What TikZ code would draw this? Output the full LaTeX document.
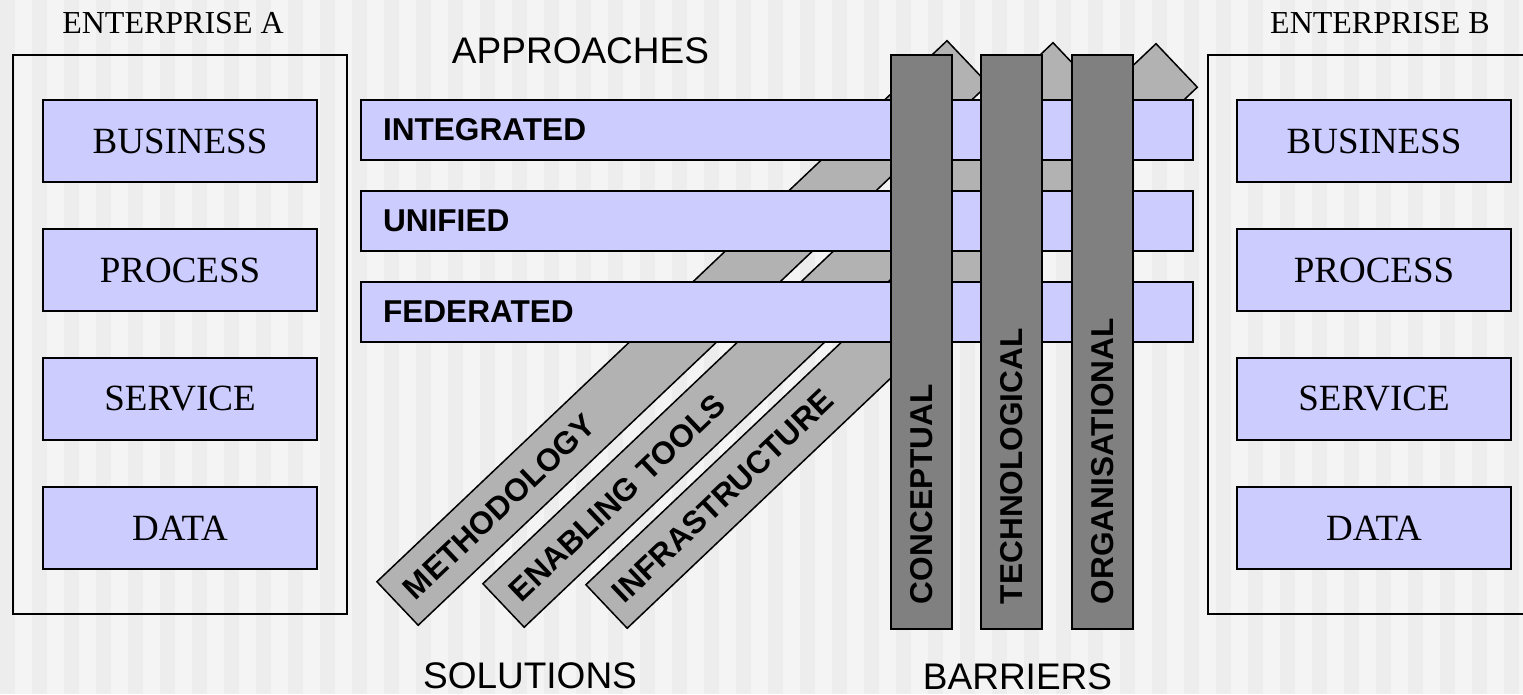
\documentclass[tikz,border=0pt]{standalone}
\usepackage{fontspec}
\setmainfont{Liberation Serif}
\setsansfont{Liberation Sans}
\usetikzlibrary{positioning}

\definecolor{lilac}{RGB}{204,204,255}
\definecolor{solgray}{RGB}{178,178,178}
\definecolor{bargray}{RGB}{128,128,128}
\definecolor{paper}{RGB}{244,244,244}
\definecolor{stripe}{RGB}{237,237,237}

\newcommand{\boldlabel}{\sffamily\bfseries\fontsize{31.6}{36}\selectfont}

\begin{document}
\begin{tikzpicture}
  [x=1pt, y=1pt,
   line width=1.5pt,
   node distance=47pt,
   enterprise/.style={draw, minimum width=334pt, minimum height=559pt, inner sep=0pt, outer sep=0pt},
   layer/.style={draw, fill=lilac, minimum width=274pt, minimum height=82pt, inner sep=0pt, outer sep=0pt,
                 font=\fontsize{37}{40}\selectfont},
   approach/.style={draw, fill=lilac, text width=788pt, inner xsep=22pt, inner ysep=0pt, outer sep=0pt,
                    minimum height=60pt, align=left, font=\boldlabel},
   solution/.style={draw, fill=solgray, rotate=43.5, anchor=west, text width=756pt, inner xsep=15pt,
                    inner ysep=0pt, minimum height=60pt, align=left, font=\boldlabel},
   barrier/.style={draw, fill=bargray, rotate=90, text width=524pt, inner xsep=25pt, inner ysep=0pt,
                   minimum height=61pt, align=left, font=\boldlabel},
   heading/.style={anchor=base, inner sep=0pt, font=\sffamily\fontsize{37}{40}\selectfont},
   title/.style={anchor=base, inner sep=0pt, font=\fontsize{32}{36}\selectfont}
  ]
  \useasboundingbox (0,0) rectangle (1523,694);
  \clip (0,0) rectangle (1523,694);

  % background
  \fill[paper] (0,0) rectangle (1523,694);
  \foreach \x in {0,32,...,1504}
    \fill[stripe] (\x,0) rectangle ++(15,694);

  % enterprise A
  \node[enterprise]           (entA)  at (180,359.5)  {};
  \node[title]                (titA)  at (173,660)    {ENTERPRISE A};
  \node[layer]                (bizA)  at (180,553)    {BUSINESS};
  \node[layer, below=of bizA] (procA)                 {PROCESS};
  \node[layer, below=of procA] (servA)                {SERVICE};
  \node[layer, below=of servA] (dataA)                {DATA};

  % enterprise B
  \node[enterprise]           (entB)  at (1375,359.5) {};
  \node[title]                (titB)  at (1380,660)   {ENTERPRISE B};
  \node[layer]                (bizB)  at (1374,553)   {BUSINESS};
  \node[layer, below=of bizB] (procB)                 {PROCESS};
  \node[layer, below=of procB] (servB)                {SERVICE};
  \node[layer, below=of servB] (dataB)                {DATA};

  % solutions
  \node[solution] (meth)  at (397,90) {METHODOLOGY};
  \node[solution] (tools) at (503,88) {ENABLING TOOLS};
  \node[solution] (infra) at (606,87) {INFRASTRUCTURE};

  % approaches
  \node[approach]                   (integ) at (777,564) {INTEGRATED};
  \node[approach, below=31pt of integ] (unif)          {UNIFIED};
  \node[approach, below=31pt of unif]  (fed)           {FEDERATED};

  % barriers
  \node[barrier] (concept) at (921.5,352)  {CONCEPTUAL};
  \node[barrier] (techno)  at (1011.5,352) {TECHNOLOGICAL};
  \node[barrier] (organ)   at (1102.5,352) {ORGANISATIONAL};

  \node[heading] (appr) at (580.5,630) {APPROACHES};
  \node[heading] (sol)  at (530,6)     {SOLUTIONS};
  \node[heading] (barr) at (1017.5,5)  {BARRIERS};
\end{tikzpicture}
\end{document}
